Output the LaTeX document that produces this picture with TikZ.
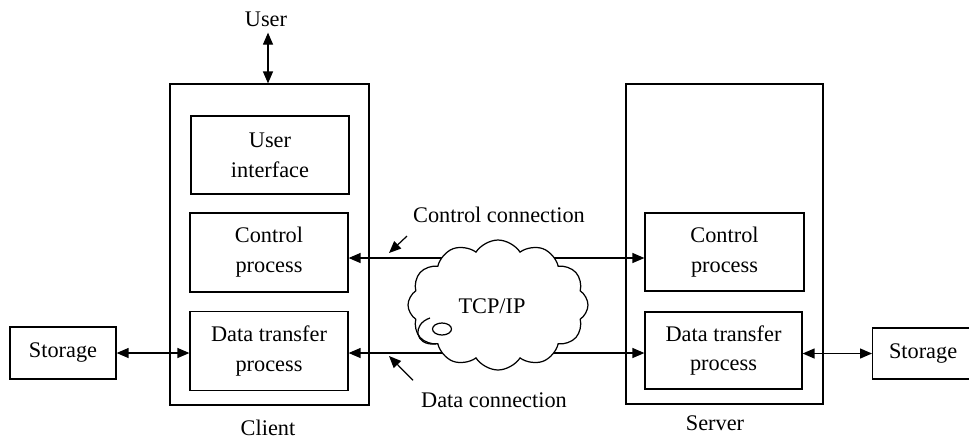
\documentclass[tikz,border=0pt]{standalone}
\usepackage{fontspec}
\setmainfont{Liberation Serif}
\usetikzlibrary{arrows.meta,shapes.symbols,backgrounds}

\tikzset{
  box/.style={draw, line width=0.7pt, align=center, inner sep=0pt},
  arr/.style={line width=0.7pt, -{Triangle[length=0.24cm,width=0.2cm]}},
  dblarr/.style={line width=0.7pt, {Triangle[length=0.24cm,width=0.2cm]}-{Triangle[length=0.24cm,width=0.2cm]}},
}

\begin{document}
\begin{tikzpicture}[x=0.02cm,y=-0.02cm,font=\fontsize{12.7}{17}\selectfont]
      \useasboundingbox (0,0) rectangle (969,441);

      % Client side
      \node[box, minimum width=3.98cm, minimum height=6.42cm] (client) at (269.5,244.5) {};
      \node[box, minimum width=3.16cm, minimum height=1.56cm] (cUI) at (270,155) {User\\interface};
      \node[box, minimum width=3.16cm, minimum height=1.58cm] (cCP) at (269,252.5) {Control\\process};
      \node[box, minimum width=3.16cm, minimum height=1.58cm] (cDT) at (269,351) {Data transfer\\process};
      \node[box, minimum width=2.12cm, minimum height=1.04cm] (lStore) at (63,353) {Storage};
      \node (user) at (266,19) {User};
      \node (clientLbl) at (268,428) {Client};

      % Server side
      \node[box, minimum width=3.94cm, minimum height=6.4cm] (server) at (724.5,244) {};
      \node[box, minimum width=3.18cm, minimum height=1.56cm] (sCP) at (724.5,252) {Control\\process};
      \node[box, minimum width=3.14cm, minimum height=1.54cm] (sDT) at (723.5,350.5) {Data transfer\\process};
      \node[box, minimum width=2.2cm, minimum height=1.02cm, anchor=west] (rStore) at (872,353.5) {\hspace*{-0.18cm}Storage};
      \node (serverLbl) at (715,423) {Server};

      % Network
      \node[cloud, draw, fill=white, line width=0.7pt, cloud puffs=12, cloud puff arc=115,
            aspect=1.4, minimum width=3.6cm, minimum height=2.6cm, inner sep=0pt] (net) at (498,305) {};
      \node (tcp) at (492,306) {TCP/IP};
      \draw[line width=0.7pt, fill=white] (442,329) ellipse [x radius=0.19cm, y radius=0.12cm];
      \draw[line width=0.7pt] (430,318) .. controls (412,324) and (414,346) .. (436,344);

      \begin{scope}[on background layer]
        \draw[arr] (net.center |- 0,258) -- (cCP.east |- 0,258);
        \draw[arr] (net.center |- 0,258) -- (sCP.west |- 0,258);
        \draw[arr] (net.center |- 0,353) -- (cDT.east |- 0,353);
        \draw[arr] (net.center |- 0,353) -- (sDT.west |- 0,353);
      \end{scope}

      % Other links
      \draw[dblarr] (user.south -| 268,0) -- (client.north -| 268,0);
      \draw[dblarr] (lStore.east) -- (lStore.east -| cDT.west);
      \draw[dblarr] (sDT.east |- rStore.west) -- (rStore.west);

      % Labels
      \node (ctrlLbl) at (499,215) {Control connection};
      \node (dataLbl) at (494,400) {Data connection};
      \coordinate (ctrlTip) at (389,253);
      \coordinate (dataTip) at (389,356);
      \draw[arr] (ctrlLbl.south west) ++(0,7) -- (ctrlTip);
      \draw[arr] (dataLbl.north west) ++(-2,-6) -- (dataTip);
    \end{tikzpicture}
\end{document}
